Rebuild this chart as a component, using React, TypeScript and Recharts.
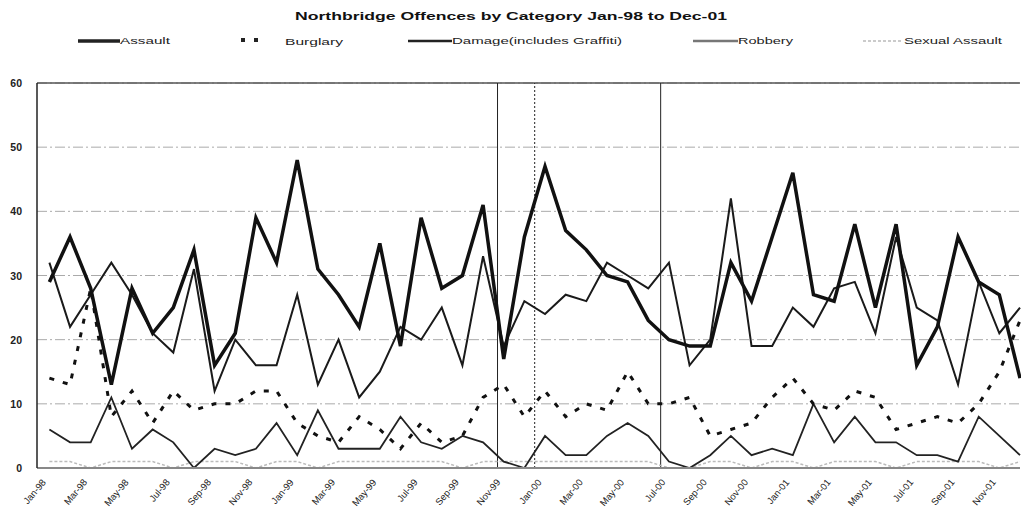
import React from "react";
import { LineChart, Line, XAxis, YAxis, CartesianGrid, ReferenceLine } from "recharts";

const months = [
    "Jan-98", "Feb-98", "Mar-98", "Apr-98", "May-98", "Jun-98", "Jul-98", "Aug-98", "Sep-98", "Oct-98", "Nov-98", "Dec-98",
    "Jan-99", "Feb-99", "Mar-99", "Apr-99", "May-99", "Jun-99", "Jul-99", "Aug-99", "Sep-99", "Oct-99", "Nov-99", "Dec-99",
    "Jan-00", "Feb-00", "Mar-00", "Apr-00", "May-00", "Jun-00", "Jul-00", "Aug-00", "Sep-00", "Oct-00", "Nov-00", "Dec-00",
    "Jan-01", "Feb-01", "Mar-01", "Apr-01", "May-01", "Jun-01", "Jul-01", "Aug-01", "Sep-01", "Oct-01", "Nov-01", "Dec-01",
];

const assault = [29, 36, 28, 13, 28, 21, 25, 34, 16, 21, 39, 32, 48, 31, 27, 22, 35, 19, 39, 28, 30, 41, 17, 36, 47, 37, 34, 30, 29, 23, 20, 19, 19, 32, 26, 36, 46, 27, 26, 38, 25, 38, 16, 22, 36, 29, 27, 14];
const burglary = [14, 13, 28, 8, 12, 7, 12, 9, 10, 10, 12, 12, 7, 5, 4, 8, 6, 3, 7, 4, 5, 11, 13, 8, 12, 8, 10, 9, 15, 10, 10, 11, 5, 6, 7, 11, 14, 10, 9, 12, 11, 6, 7, 8, 7, 10, 15, 23];
const damage = [32, 22, 27, 32, 27, 21, 18, 31, 12, 20, 16, 16, 27, 13, 20, 11, 15, 22, 20, 25, 16, 33, 19, 26, 24, 27, 26, 32, 30, 28, 32, 16, 20, 42, 19, 19, 25, 22, 28, 29, 21, 36, 25, 23, 13, 29, 21, 25];
const robbery = [6, 4, 4, 11, 3, 6, 4, 0, 3, 2, 3, 7, 2, 9, 3, 3, 3, 8, 4, 3, 5, 4, 1, 0, 5, 2, 2, 5, 7, 5, 1, 0, 2, 5, 2, 3, 2, 10, 4, 8, 4, 4, 2, 2, 1, 8, 5, 2];
const sexualAssault = [1, 1, 0, 1, 1, 1, 0, 1, 1, 1, 0, 1, 1, 0, 1, 1, 1, 1, 1, 1, 0, 1, 1, 1, 1, 1, 1, 1, 1, 1, 0, 0, 1, 1, 0, 1, 1, 0, 1, 1, 1, 0, 1, 1, 1, 1, 0, 1];

const yTicks = [0, 10, 20, 30, 40, 50, 60];
const xTicks = [0, 2, 4, 6, 8, 10, 12, 14, 16, 18, 20, 22, 24, 26, 28, 30, 32, 34, 36, 38, 40, 42, 44, 46];
// vertical period markers (month index, can fall between months)
const markers = [
    { at: 21.7, dash: undefined },
    { at: 23.5, dash: "2 2" },
    { at: 29.6, dash: undefined },
];

const data = months.map((m, i) => ({
    i,
    month: m,
    assault: assault[i],
    burglary: burglary[i],
    damage: damage[i],
    robbery: robbery[i],
    sexualAssault: sexualAssault[i],
}));

const FONT = "'Liberation Sans', Arial, sans-serif";

const XTick = ({ x, y, payload }: any) => (
    <g transform={`translate(${x - 6},${y + 4})`}>
        <text textAnchor="end" transform="rotate(-50)" fontSize={9.5} fontFamily={FONT} fill="#222" dy={4}>
            {months[payload.value]}
        </text>
    </g>
);

const YTick = ({ x, y, payload }: any) => (
    <text x={x} y={y} dy={4} textAnchor="end" fontSize={10.5} fontWeight="bold" fontFamily={FONT} fill="#222">
        {payload.value}
    </text>
);

function Header() {
    return (
        <svg width={1021} height={60} style={{ position: "absolute", left: 0, top: 0, pointerEvents: "none" }}>
            <text x={295} y={20} fontSize={11.5} fontWeight="bold" fontFamily={FONT} fill="#111" textLength={432} lengthAdjust="spacingAndGlyphs">
                Northbridge Offences by Category Jan-98 to Dec-01
            </text>
            <g fontSize={9} fontFamily={FONT} fill="#222">
                <line x1={78} x2={120} y1={41} y2={41} stroke="#222" strokeWidth={3.5} />
                <text x={120} y={44} textLength={50} lengthAdjust="spacingAndGlyphs">Assault</text>

                <rect x={241} y={38} width={4} height={4} fill="#222" />
                <rect x={254} y={38} width={4} height={4} fill="#222" />
                <text x={285} y={45} textLength={58} lengthAdjust="spacingAndGlyphs">Burglary</text>

                <line x1={408} x2={452} y1={41} y2={41} stroke="#222" strokeWidth={2.5} />
                <text x={452} y={44} textLength={170} lengthAdjust="spacingAndGlyphs">Damage(includes Graffiti)</text>

                <line x1={693} x2={738} y1={41} y2={41} stroke="#777" strokeWidth={2.5} />
                <text x={738} y={44} textLength={55} lengthAdjust="spacingAndGlyphs">Robbery</text>

                <line x1={863} x2={903} y1={41} y2={41} stroke="#bbb" strokeWidth={1.5} strokeDasharray="3 2" />
                <text x={904} y={44} textLength={98} lengthAdjust="spacingAndGlyphs">Sexual Assault</text>
            </g>
        </svg>
    );
}

export default function App() {
    return (
        <div style={{ position: "absolute", left: 0, top: 0, width: 1021, height: 520, background: "#fff" }}>
            <LineChart width={1021} height={520} data={data} margin={{ top: 83, right: 1, bottom: 0, left: 0 }}>
                <CartesianGrid vertical={false} stroke="#aaa" strokeDasharray="10 3 2 3" />
                <XAxis
                    dataKey="i"
                    type="number"
                    domain={[-0.6, 47]}
                    ticks={xTicks}
                    interval={0}
                    height={52}
                    tick={<XTick />}
                    tickLine={false}
                    axisLine={{ stroke: "#888", strokeWidth: 2 }}
                />
                <YAxis
                    domain={[0, 60]}
                    ticks={yTicks}
                    width={37}
                    tick={<YTick />}
                    tickLine={false}
                    tickMargin={9}
                    axisLine={{ stroke: "#222", strokeWidth: 1.5 }}
                />
                <ReferenceLine y={60} stroke="#555" strokeWidth={1.5} />
                {markers.map(m => (
                    <ReferenceLine key={m.at} x={m.at} stroke="#222" strokeWidth={1} strokeDasharray={m.dash} />
                ))}
                <Line type="linear" dataKey="sexualAssault" stroke="#bbb" strokeWidth={1.5} strokeDasharray="3 2" dot={false} isAnimationActive={false} />
                <Line type="linear" dataKey="robbery" stroke="#222" strokeWidth={1.8} dot={false} isAnimationActive={false} />
                <Line type="linear" dataKey="burglary" stroke="#111" strokeWidth={3} strokeDasharray="5 9" dot={false} isAnimationActive={false} />
                <Line type="linear" dataKey="damage" stroke="#1a1a1a" strokeWidth={2} dot={false} isAnimationActive={false} />
                <Line type="linear" dataKey="assault" stroke="#111" strokeWidth={3.5} dot={false} isAnimationActive={false} />
            </LineChart>
            <Header />
        </div>
    );
}
